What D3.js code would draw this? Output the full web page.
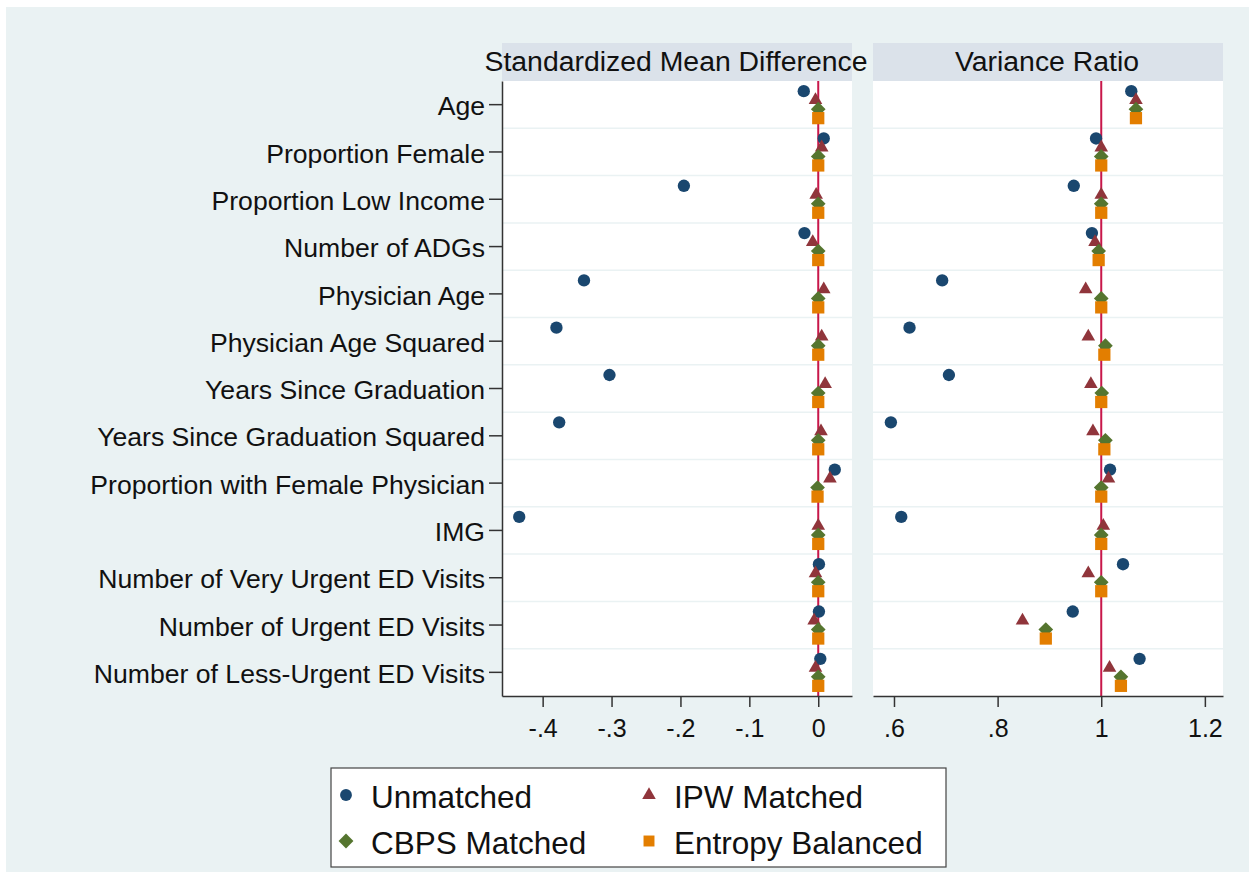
<!DOCTYPE html>
<html>
<head>
<meta charset="utf-8">
<script src="https://cdn.jsdelivr.net/npm/d3@7"></script>
<style>
html,body{margin:0;padding:0;background:#fff;}
svg{display:block;}
text{font-family:"Liberation Sans",Arial,sans-serif;fill:#111;}
</style>
</head>
<body>
<svg id="chart" width="1249" height="872"></svg>
<script>
// ---- data ----
const categories = ["Age","Proportion Female","Proportion Low Income","Number of ADGs","Physician Age","Physician Age Squared","Years Since Graduation","Years Since Graduation Squared","Proportion with Female Physician","IMG","Number of Very Urgent ED Visits","Number of Urgent ED Visits","Number of Less-Urgent ED Visits"];
const seriesNames = ["Unmatched","IPW Matched","CBPS Matched","Entropy Balanced"];
const panelTitles = ["Standardized Mean Difference","Variance Ratio"];

const smdUnmatched = [-0.021, 0.008, -0.195, -0.020, -0.340, -0.380, -0.303, -0.376, 0.024, -0.434, 0.001, 0.001, 0.003];
const smdIPW       = [-0.004, 0.005, -0.003, -0.008, 0.008, 0.005, 0.010, 0.004, 0.017, 0.000, -0.004, -0.006, -0.004];
const smdCBPS      = [0, 0, 0, 0, 0, 0, 0, 0, -0.001, 0, 0, 0, 0];
const smdEntropy   = [0, 0, 0, 0, 0, 0, 0, 0, -0.001, 0, 0, 0, 0];

const vrUnmatched = [1.058, 0.990, 0.947, 0.982, 0.693, 0.630, 0.706, 0.594, 1.017, 0.614, 1.042, 0.945, 1.074];
const vrIPW       = [1.067, 1.000, 1.000, 0.988, 0.970, 0.975, 0.980, 0.984, 1.014, 1.004, 0.975, 0.848, 1.016];
const vrCBPS      = [1.067, 1.000, 1.000, 0.995, 1.000, 1.008, 1.001, 1.008, 1.000, 1.000, 1.000, 0.893, 1.038];
const vrEntropy   = [1.067, 1.000, 1.000, 0.995, 1.000, 1.006, 1.000, 1.006, 1.000, 1.000, 1.000, 0.893, 1.038];

const smdTicks = [-0.4, -0.3, -0.2, -0.1, 0];
const vrTicks = [0.6, 0.8, 1, 1.2];
const refLines = [0, 1];

// ---- styles ----
const colors = ["#1a476f", "#90353b", "#55752f", "#e37e00"];
const offsets = [-13.5, -4.5, 4.5, 13.5];
const svg = d3.select("#chart");

svg.append("rect").attr("x", 6).attr("y", 7).attr("width", 1243).attr("height", 865).attr("fill", "#eaf2f3");

const y = d3.scaleBand().domain(categories).range([81, 696]);

const panels = [
  {title: panelTitles[0], x0: 502, x1: 852, domain: [-0.459, 0.049], ticks: smdTicks, ref: refLines[0],
   series: [smdUnmatched, smdIPW, smdCBPS, smdEntropy], yaxis: true},
  {title: panelTitles[1], x0: 873, x1: 1223, domain: [0.5595, 1.235], ticks: vrTicks, ref: refLines[1],
   series: [vrUnmatched, vrIPW, vrCBPS, vrEntropy], yaxis: false}
];

const fmt = d => d === 0 ? "0" : String(d).replace(/^(-?)0\./, "$1.");

function symbolPath(i, size) {
  if (i === 0) return d3.symbol().type(d3.symbolCircle).size(size || 120)();
  if (i === 1) return d3.symbol().type(d3.symbolTriangle).size(size || 80)();
  if (i === 2) return d3.symbol().type(d3.symbolSquare).size(size || 108)();
  return d3.symbol().type(d3.symbolSquare).size(size || 150)();
}
function symbolTransform(i, cx, cy) {
  return i === 2 ? `translate(${cx},${cy}) rotate(45)` : `translate(${cx},${cy})`;
}

panels.forEach(p => {
  const x = d3.scaleLinear().domain(p.domain).range([p.x0, p.x1]);
  const g = svg.append("g");
  // plot area
  g.append("rect").attr("x", p.x0).attr("y", 81).attr("width", p.x1 - p.x0).attr("height", 615).attr("fill", "#fff");
  // strip
  g.append("rect").attr("x", p.x0).attr("y", 43).attr("width", p.x1 - p.x0).attr("height", 38).attr("fill", "#dbe2ea");
  g.append("text").attr("x", (p.x0 + p.x1) / 2 - 1).attr("y", 71).attr("text-anchor", "middle")
    .attr("font-size", 28.4).text(p.title);
  // gridlines at band boundaries
  g.selectAll("line.grid").data(categories.slice(1)).enter().append("line")
    .attr("x1", p.x0).attr("x2", p.x1)
    .attr("y1", d => y(d)).attr("y2", d => y(d))
    .attr("stroke", "#eaf2f3").attr("stroke-width", 1.5);
  // reference line
  g.append("line").attr("x1", x(p.ref)).attr("x2", x(p.ref)).attr("y1", 81).attr("y2", 696)
    .attr("stroke", "#c8174a").attr("stroke-width", 2);
  // x axis
  const xa = g.append("g").attr("transform", "translate(0,696)")
    .call(d3.axisBottom(x).tickValues(p.ticks).tickFormat(fmt).tickSize(11).tickPadding(6).tickSizeOuter(0));
  xa.select(".domain").attr("stroke", "#333").attr("stroke-width", 1.5);
  xa.selectAll(".tick line").attr("stroke", "#333").attr("stroke-width", 1.5);
  xa.selectAll(".tick text").attr("font-size", 25).attr("font-family", "Liberation Sans, Arial, sans-serif").attr("fill", "#111").attr("dy", "0.95em");
  // y axis
  if (p.yaxis) {
    const ya = g.append("g").attr("transform", `translate(${p.x0},0)`)
      .call(d3.axisLeft(y).tickSize(13).tickPadding(4).tickSizeOuter(0));
    ya.select(".domain").attr("stroke", "#333").attr("stroke-width", 1.5);
    ya.selectAll(".tick line").attr("stroke", "#333").attr("stroke-width", 1.5);
    ya.selectAll(".tick text").attr("font-size", 26.6).attr("font-family", "Liberation Sans, Arial, sans-serif").attr("fill", "#111").attr("dy", "0.4em");
  }
  // markers
  p.series.forEach((vals, si) => {
    g.selectAll(null).data(vals).enter().append("path")
      .attr("d", symbolPath(si))
      .attr("transform", (v, i) => symbolTransform(si, x(v), y(categories[i]) + y.bandwidth() / 2 + offsets[si]))
      .attr("fill", colors[si]);
  });
});

// legend
const lg = svg.append("g");
lg.append("rect").attr("x", 331).attr("y", 768).attr("width", 615).attr("height", 99)
  .attr("fill", "#fff").attr("stroke", "#444").attr("stroke-width", 1.2);
const legPos = [[346, 795], [649, 795], [346, 841], [649, 841]];
seriesNames.forEach((name, i) => {
  const [lx, ly] = legPos[i];
  lg.append("path").attr("d", symbolPath(i, [110, 80, 110, 120][i]))
    .attr("transform", symbolTransform(i, lx, ly)).attr("fill", colors[i]);
  lg.append("text").attr("x", lx + 25).attr("y", ly + 13).attr("font-size", 31.5).text(name);
});
</script>
</body>
</html>
